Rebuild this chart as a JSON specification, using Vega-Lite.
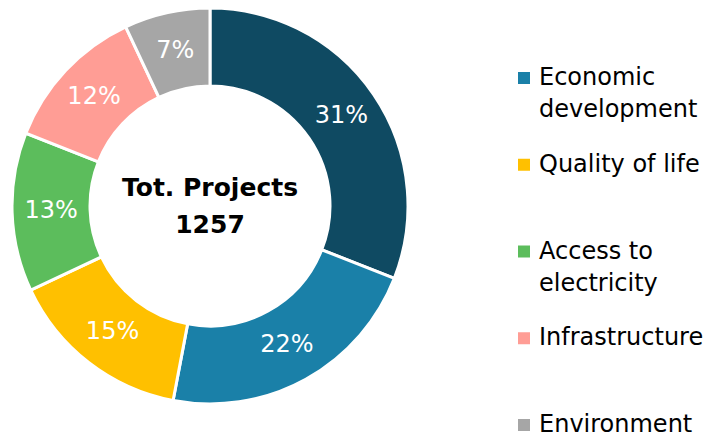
{
  "$schema": "https://vega.github.io/schema/vega-lite/v6.json",
  "width": 420,
  "height": 412,
  "autosize": "none",
  "padding": {"left": 0, "top": 0, "right": 286, "bottom": 20},
  "background": "white",
  "config": {"view": {"stroke": null}, "font": "DejaVu Sans"},
  "layer": [
    {
      "data": {
        "values": [
          {"category": "Other", "projects": 389, "share": 0.31, "rank": 1},
          {"category": "Economic development", "projects": 277, "share": 0.22, "rank": 2},
          {"category": "Quality of life", "projects": 189, "share": 0.15, "rank": 3},
          {"category": "Access to electricity", "projects": 163, "share": 0.13, "rank": 4},
          {"category": "Infrastructure", "projects": 151, "share": 0.12, "rank": 5},
          {"category": "Environment", "projects": 88, "share": 0.07, "rank": 6}
        ]
      },
      "layer": [
        {
          "mark": {"type": "arc", "outerRadius": 198, "innerRadius": 120, "stroke": "white", "strokeWidth": 3},
          "encoding": {
            "theta": {"field": "projects", "type": "quantitative", "stack": true},
            "order": {"field": "rank", "type": "quantitative"},
            "color": {
              "field": "category",
              "type": "nominal",
              "scale": {
                "domain": ["Other", "Economic development", "Quality of life", "Access to electricity", "Infrastructure", "Environment"],
                "range": ["#0F4A62", "#1A80A8", "#FFC000", "#5CBD5C", "#FF9D95", "#A6A6A6"]
              },
              "legend": {
                "orient": "none",
                "legendX": 512,
                "legendY": 66,
                "title": null,
                "values": ["Economic development", "Quality of life", "Access to electricity", "Infrastructure", "Environment"],
                "symbolType": "square",
                "symbolSize": 144,
                "symbolStrokeWidth": 0,
                "labelFontSize": 24,
                "labelFont": "DejaVu Sans",
                "labelColor": "#000000",
                "labelOffset": 3,
                "labelLimit": 0,
                "rowPadding": 30.75,
                "padding": 0,
                "labelExpr": "datum.label == 'Economic development' ? ['Economic', 'development'] : datum.label == 'Access to electricity' ? ['Access to', 'electricity'] : [datum.label, '']",
                "encoding": {"labels": {"lineHeight": {"value": 32}}}
              }
            }
          }
        },
        {
          "mark": {"type": "text", "radius": 159, "fontSize": 24, "fill": "white", "font": "DejaVu Sans"},
          "encoding": {
            "theta": {"field": "projects", "type": "quantitative", "stack": true},
            "order": {"field": "rank", "type": "quantitative"},
            "text": {"field": "share", "type": "quantitative", "format": ".0%"}
          }
        }
      ]
    },
    {
      "data": {"values": [{"title": "Tot. Projects", "total": 1257}]},
      "layer": [
        {
          "mark": {"type": "text", "fontSize": 25, "fontWeight": "bold", "dy": -18, "color": "#000000", "font": "DejaVu Sans"},
          "encoding": {"text": {"field": "title", "type": "nominal"}}
        },
        {
          "mark": {"type": "text", "fontSize": 25, "fontWeight": "bold", "dy": 19, "color": "#000000", "font": "DejaVu Sans"},
          "encoding": {"text": {"field": "total", "type": "quantitative", "format": "d"}}
        }
      ]
    }
  ]
}
